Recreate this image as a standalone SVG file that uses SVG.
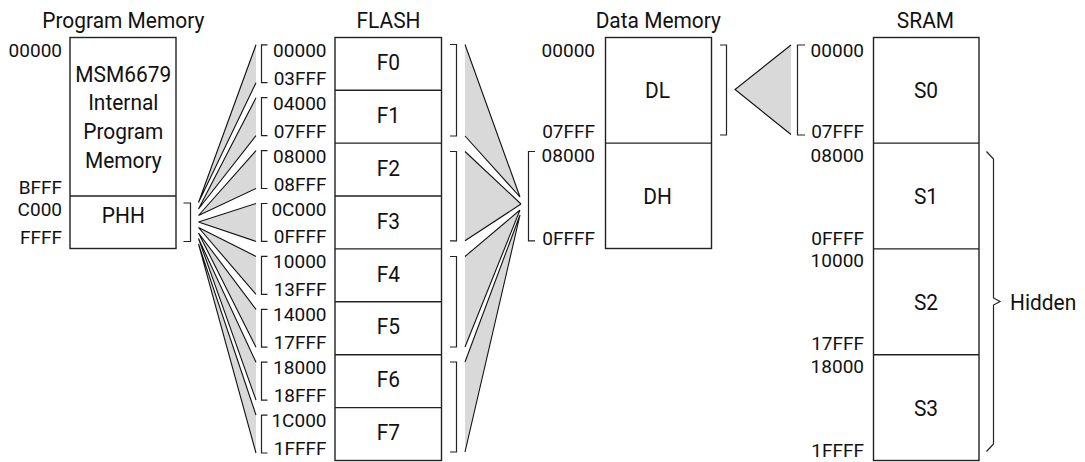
<svg xmlns="http://www.w3.org/2000/svg" width="1085" height="462" viewBox="0 0 1085 462">
<style>
text{font-family:Roboto,"Liberation Sans",Arial,sans-serif;fill:#111}
.t{font-size:22.5px;text-anchor:middle}
.l{font-size:22.5px;text-anchor:middle}
.a{font-size:19px;text-anchor:end}
.box{fill:#fff;stroke:#222;stroke-width:1.4}
.div{stroke:#222;stroke-width:1.4;fill:none}
.br{fill:none;stroke:#222;stroke-width:1.2}
.w{fill:#d9d9d9;stroke:none}
.e{fill:none;stroke:#111;stroke-width:1.1}
</style>
<defs>
<clipPath id="none"><rect width="0" height="0"/></clipPath>
</defs>
<g id="titles" transform="scale(.93 1)">
<text class="t" x="132.58" y="28">Program Memory</text>
<text class="t" x="417.74" y="28">FLASH</text>
<text class="t" x="707.85" y="28">Data Memory</text>
<text class="t" x="995.16" y="28">SRAM</text>
</g>
<g id="connectors">
<polygon class="w" points="198.5,202.5 256,44.8 256,82.7"/>
<polygon class="w" points="198.5,209 256,97.7 256,135.6"/>
<polygon class="w" points="198.5,215.5 256,150.6 256,188.5"/>
<polygon class="w" points="198.5,222 256,203.5 256,241.4"/>
<polygon class="w" points="198.5,227.5 256,256.4 256,294.3"/>
<polygon class="w" points="198.5,233 256,309.3 256,347.2"/>
<polygon class="w" points="198.5,238.5 256,362.2 256,400.1"/>
<polygon class="w" points="198.5,244 256,415.1 256,453"/>
<path class="e" d="M198.5,202.5L256,44.8M198.5,202.5L256,82.7M198.5,209L256,97.7M198.5,209L256,135.6M198.5,215.5L256,150.6M198.5,215.5L256,188.5M198.5,222L256,203.5M198.5,222L256,241.4M198.5,227.5L256,256.4M198.5,227.5L256,294.3M198.5,233L256,309.3M198.5,233L256,347.2M198.5,238.5L256,362.2M198.5,238.5L256,400.1M198.5,244L256,415.1M198.5,244L256,453"/>
<polygon class="w" points="465,44.5 465,136 520,197"/>
<polygon class="w" points="465,151.5 465,240.8 521,204"/>
<polygon class="w" points="465,256.5 465,347 520,210"/>
<polygon class="w" points="465,362 465,452 520,215"/>
<path class="e" d="M465,44.5L520,197M465,136L520,197M465,151.5L521,204M465,240.8L521,204M465,256.5L520,210M465,347L520,210M465,362L520,215M465,452L520,215"/>
<polygon class="w" points="735,89.5 791,45 791,134.5"/>
<path class="e" d="M791,45L735,89.5L791,134.5"/>
<path class="br" d="M183.5,203H190.5V241.5H183.5"/>
<path class="br" d="M267.5,44.8H261.5V82.7H267.5M267.5,97.7H261.5V135.6H267.5M267.5,150.6H261.5V188.5H267.5M267.5,203.5H261.5V241.4H267.5M267.5,256.4H261.5V294.3H267.5M267.5,309.3H261.5V347.2H267.5M267.5,362.2H261.5V400.1H267.5M267.5,415.1H261.5V453H267.5"/>
<path class="br" d="M450,44.5H456.5V136H450M450,151.5H456.5V240.8H450M450,256.5H456.5V347H450M450,362H456.5V452H450"/>
<path class="br" d="M535,151.5H528.5V240.8H535"/>
<path class="br" d="M720,45H726.5V135H720"/>
<path class="br" d="M805,45H797.5V135H805"/>
<path class="br" d="M986.5,151.5L993.5,159V298L1000,301.5L993.5,305V444L986.5,451.5"/>
</g>
<g id="program-memory">
<rect class="box" x="70" y="37.5" width="106" height="211"/>
<line class="div" x1="70" y1="196" x2="176" y2="196"/>
<g transform="scale(.93 1)">
<text class="l" x="132.58" y="82.5">MSM6679</text>
<text class="l" x="132.58" y="110.5">Internal</text>
<text class="l" x="132.58" y="139">Program</text>
<text class="l" x="132.58" y="168">Memory</text>
<text class="l" x="132.58" y="223">PHH</text>
</g>
<text class="a" x="62" y="57">00000</text>
<text class="a" x="62" y="194">BFFF</text>
<text class="a" x="62" y="215.5">C000</text>
<text class="a" x="62" y="244">FFFF</text>
</g>
<g id="flash">
<rect class="box" x="335" y="37.5" width="106.5" height="423"/>
<path class="div" d="M335,90.2H441.5M335,143.1H441.5M335,196H441.5M335,248.9H441.5M335,301.8H441.5M335,354.7H441.5M335,407.6H441.5"/>
<g transform="scale(.93 1)">
<text class="l" x="417.53" y="70">F0</text>
<text class="l" x="417.53" y="122.9">F1</text>
<text class="l" x="417.53" y="175.8">F2</text>
<text class="l" x="417.53" y="228.7">F3</text>
<text class="l" x="417.53" y="281.6">F4</text>
<text class="l" x="417.53" y="334.5">F5</text>
<text class="l" x="417.53" y="387.4">F6</text>
<text class="l" x="417.53" y="440.3">F7</text>
</g>
<text class="a" x="326.5" y="56.8">00000</text>
<text class="a" x="326.5" y="84.7">03FFF</text>
<text class="a" x="326.5" y="109.7">04000</text>
<text class="a" x="326.5" y="137.6">07FFF</text>
<text class="a" x="326.5" y="162.6">08000</text>
<text class="a" x="326.5" y="190.5">08FFF</text>
<text class="a" x="326.5" y="215.5">0C000</text>
<text class="a" x="326.5" y="243.4">0FFFF</text>
<text class="a" x="326.5" y="268.4">10000</text>
<text class="a" x="326.5" y="296.3">13FFF</text>
<text class="a" x="326.5" y="321.3">14000</text>
<text class="a" x="326.5" y="349.2">17FFF</text>
<text class="a" x="326.5" y="374.2">18000</text>
<text class="a" x="326.5" y="402.1">18FFF</text>
<text class="a" x="326.5" y="427.1">1C000</text>
<text class="a" x="326.5" y="455">1FFFF</text>
</g>
<g id="data-memory">
<rect class="box" x="605.5" y="37.5" width="106" height="211"/>
<line class="div" x1="605.5" y1="143.1" x2="711.5" y2="143.1"/>
<g transform="scale(.93 1)">
<text class="l" x="706.99" y="98.5">DL</text>
<text class="l" x="706.99" y="204.5">DH</text>
</g>
<text class="a" x="595" y="56.8">00000</text>
<text class="a" x="595" y="138.3">07FFF</text>
<text class="a" x="595" y="161.7">08000</text>
<text class="a" x="595" y="245">0FFFF</text>
</g>
<g id="sram">
<rect class="box" x="873.5" y="37.5" width="105.5" height="423"/>
<path class="div" d="M873.5,143.1H979M873.5,248.9H979M873.5,354.7H979"/>
<g transform="scale(.93 1)">
<text class="l" x="995.7" y="98.2">S0</text>
<text class="l" x="995.7" y="204">S1</text>
<text class="l" x="995.7" y="309.8">S2</text>
<text class="l" x="995.7" y="415.6">S3</text>
</g>
<text class="a" x="864" y="56.8">00000</text>
<text class="a" x="864" y="138.3">07FFF</text>
<text class="a" x="864" y="161.7">08000</text>
<text class="a" x="864" y="245">0FFFF</text>
<text class="a" x="864" y="266.7">10000</text>
<text class="a" x="864" y="350">17FFF</text>
<text class="a" x="864" y="373.3">18000</text>
<text class="a" x="864" y="456.7">1FFFF</text>
</g>
<g id="hidden-label" transform="scale(.93 1)">
<text x="1086" y="310" style="font-size:22.5px">Hidden</text>
</g>
</svg>
